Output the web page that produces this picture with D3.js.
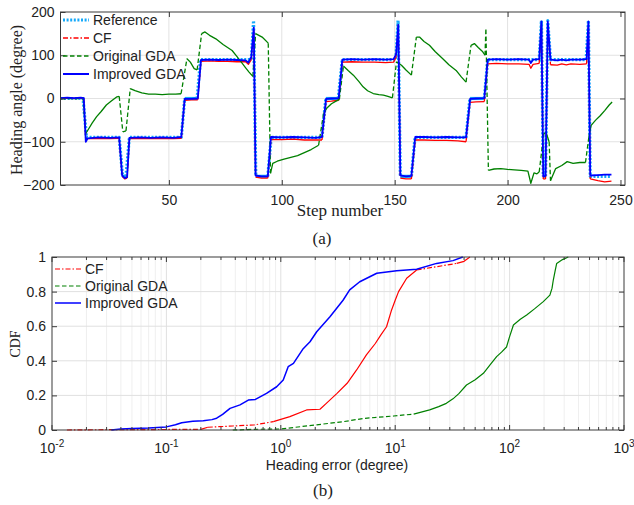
<!DOCTYPE html>
<html>
<head>
<meta charset="utf-8">
<script src="https://cdn.jsdelivr.net/npm/d3@7"></script>
<style>
  body { margin: 0; background: #fff; }
  text { fill: #222; }
</style>
</head>
<body>
<div id="chart"></div>
<script>
// (a) heading angle per step, [step, degree]
var referenceTrace = [[2,0],[12,0],[13.5,-90],[28,-90],[29.5,-180],[31,-180],[32.5,-90],[55.5,-90],[57,0],[62.5,0],[64,90],
  [86.5,90],[87.5,180],[88.5,-180],[93.8,-180],[95.3,-90],[117.8,-90],[119.5,0],[125,0],[126.8,90],[150.5,90],[151.5,180],
  [152.5,-180],[157.4,-180],[159,-90],[181.6,-90],[183.3,0],[189.7,0],[191.2,90],[214,90],[215,180],[215.8,-180],[216.8,-180],
  [217.8,180],[219,90],[234.8,90],[235.8,180],[236.6,-180],[246,-180]];

var cfTrace = [[2,0],[5,1],[8,0],[11,1],[12.3,0],[13.2,-96],[14,-93],[19,-92],[24,-93],[28,-92],[29.3,-180],[30.5,-186],[31.5,-184],
  [32.5,-93],[37,-92],[42,-93],[47,-92],[52,-93],[55.5,-92],[57,-4],[60,-3],[62.8,-3],[64.2,86],[68,87],[72,86],[76,86],[80,85],
  [84,85],[85.2,79],[86.5,90],[87.6,160],[88.4,-182],[91,-184],[93.8,-184],[95.2,-95],[100,-95],[105,-94],[110,-96],[115,-96],
  [117.8,-96],[119.6,-7],[122,-6],[125.2,-4],[126.8,84],[131,85],[136,84],[141,84],[146,83],[149.5,84],[150.6,95],[151.6,170],
  [152.5,-184],[155,-186],[157.4,-186],[159.1,-96],[163,-96],[168,-97],[173,-97],[178,-98],[181.6,-100],[183.4,-9],[186,-8],
  [189.7,-7],[191.2,80],[195,81],[200,80],[205,80],[209.5,79],[210.3,70],[211.3,79],[214,81],[215,170],[215.8,-186],[216.8,-186],
  [217.8,168],[219,78],[222,77],[224,80],[226,78],[228,80],[232,79],[235,80],[235.8,168],[236.6,-186],[240,-190],[243,-193],[246,-191]];

var originalGdaTrace = [[2,0],[12,0],[13.2,-81],[14.5,-70],[16,-57],[18,-42],[20,-30],[22.3,-15],[24.5,-6],[27,4],[28,5],[29.6,-77],
  [31,-75],[32.9,23],[35,18],[38,13],[41,10],[44,10],[47,9],[50,10],[53,10],[55.4,11],[58,92],[59.5,84],[61.2,69],[62.5,66],
  [64.5,150],[66,154],[68,146],[70.8,138],[74,125],[78,111],[80,98],[82.5,81],[84,71],[85.5,61],[87.2,51],[88.4,150],[91.3,142],
  [94,128],[95,-173],[96,-150],[98,-145],[101,-140],[104,-136],[107,-132],[110,-125],[113,-118],[116.3,-108],[118.5,-35],[120,-22],
  [122,-12],[124,-6],[125.5,-2],[127.3,75],[129.5,64],[131.7,54],[134,40],[136,27],[138,18],[140.5,11.5],[143,9],[145,8],[147,5],
  [149,1.5],[150.8,85],[153,77],[155,66],[157.4,54],[159.6,142],[161,142],[163,132],[165.4,123],[168,108],[171.3,92],[174,78],
  [177.2,65],[179.5,50],[181.6,38],[183.8,123],[185.3,127],[187,118],[189,108],[190,100],[190.4,162],[191.5,-166],[194,-163],
  [197,-162],[200,-164],[203,-165],[206,-166],[209,-168],[210.3,-196],[211.7,-172],[213,-174],[214,-170],[216,-82],[217,-78],
  [218.4,-100],[219,-190],[221.3,-162],[224,-155],[226.4,-146],[229,-150],[232,-148],[234.5,-148],[236,-89],[237,-62],[239,-50],
  [241,-40],[243,-28],[245,-15],[246.3,-8]];

var improvedGdaTrace = [[2,1],[5,2],[8,1],[11,2],[12.3,1],[13.2,-100],[14,-92],[19,-90],[24,-91],[28,-90],[29.3,-178],[30.5,-184],
  [31.5,-182],[32.5,-91],[37,-90],[42,-91],[47,-90],[52,-91],[55.5,-89],[57,-1],[60,-1],[62.8,0],[64.2,89],[68,90],[72,89],[76,90],
  [80,89],[84,88],[85.2,83],[86.5,96],[87.6,164],[88.4,-178],[91,-180],[93.8,-180],[95.2,-89],[100,-90],[105,-89],[110,-90],
  [115,-91],[117.8,-89],[119.6,-1],[122,0],[125.2,1],[126.8,90],[131,91],[136,90],[141,91],[146,90],[149.5,91],[150.6,102],
  [151.6,170],[152.5,-178],[155,-180],[157.4,-179],[159.1,-89],[163,-89],[168,-90],[173,-89],[178,-90],[181.6,-90],[183.4,-1],
  [186,0],[189.7,1],[191.2,90],[195,91],[200,90],[205,91],[209.5,90],[210.3,82],[211.3,90],[214,91],[215,178],[215.8,-180],
  [216.8,-179],[217.8,178],[219,90],[222,88],[224,90],[226,88],[228,90],[232,90],[235,91],[235.8,178],[236.6,-178],[240,-177],
  [243,-176],[246,-176]];

// (b) CDF of heading error, [error in degree, cdf]
var cfCdf = [[0.0135,0],[0.03,0.002],[0.05,0.002],[0.1,0.003],[0.2,0.004],[0.23,0.016],[0.38,0.023],[0.58,0.029],[0.86,0.048],
  [1.2,0.077],[1.68,0.116],[2.2,0.12],[2.5,0.154],[3.1,0.212],[3.8,0.27],[4.6,0.347],[5.6,0.434],[6.7,0.5],[7.5,0.55],[8.4,0.597],
  [9.3,0.694],[10,0.75],[10.7,0.8],[12.6,0.877],[15.4,0.925],[23,0.944],[34.5,0.963],[40,0.975],[45,1]];

var originalGdaCdf = [[0.38,0],[0.6,0.004],[1,0.006],[2.06,0.03],[3.5,0.048],[5.3,0.067],[9.7,0.081],
  [14.5,0.092],[20,0.116],[24,0.135],[28,0.154],[32,0.18],[36,0.21],[42,0.26],[50,0.29],[59,0.328],[68,0.38],[77,0.424],
  [85,0.45],[94,0.48],[100,0.54],[108,0.607],[124,0.64],[141,0.665],[165,0.7],[197,0.742],[225,0.78],[235,0.82],[241,0.867],
  [250,0.92],[258,0.963],[290,0.985],[326,1]];

var improvedGdaCdf = [[0.033,0],[0.04,0.006],[0.05,0.009],[0.07,0.012],[0.1,0.018],[0.12,0.03],[0.136,0.042],[0.17,0.05],
  [0.21,0.054],[0.25,0.06],[0.275,0.068],[0.31,0.09],[0.36,0.125],[0.44,0.145],[0.52,0.173],[0.6,0.177],[0.75,0.212],[0.92,0.25],
  [1.05,0.289],[1.16,0.366],[1.29,0.385],[1.57,0.47],[1.8,0.51],[2.06,0.568],[2.69,0.655],[3.5,0.75],[4,0.81],[4.9,0.857],
  [6.9,0.906],[10.3,0.921],[15.4,0.929],[23,0.963],[32,0.979],[39,1]];

var angleTicks = [-200, -100, 0, 100, 200];
var stepTicks = [50, 100, 150, 200, 250];
var cdfTicks = [0, 0.2, 0.4, 0.6, 0.8, 1];
var errorDecades = [-2, -1, 0, 1, 2, 3];

var svg = d3.select("#chart")
  .append("svg")
  .attr("width", 634)
  .attr("height", 505)
  .style("font-family", "'Liberation Sans', Arial, sans-serif");

var serif = "'Liberation Serif', 'Times New Roman', serif";

// draws a trace; long segments take the dash pattern, short ones look solid (as in the export)
function drawTrace(g, pts, sx, sy, color, width, dash, limit) {
  var runs = [], cur = null;
  for (var i = 1; i < pts.length; i++) {
    var len = Math.hypot(sx(pts[i][0]) - sx(pts[i - 1][0]), sy(pts[i][1]) - sy(pts[i - 1][1]));
    var isLong = !!dash && len > limit;
    if (!cur || cur.isLong !== isLong) {
      cur = { isLong: isLong, p: [pts[i - 1]] };
      runs.push(cur);
    }
    cur.p.push(pts[i]);
  }
  var line = d3.line().x(function(d) { return sx(d[0]); }).y(function(d) { return sy(d[1]); });
  runs.forEach(function(r) {
    g.append("path")
      .attr("d", line(r.p))
      .attr("fill", "none")
      .attr("stroke", color)
      .attr("stroke-width", width)
      .attr("stroke-linejoin", "round")
      .attr("stroke-dasharray", r.isLong ? dash : null);
  });
}

function drawLegend(g, x0, y0, gap, items) {
  items.forEach(function(it, i) {
    var y = y0 + i * gap;
    g.append("line")
      .attr("x1", x0).attr("x2", x0 + 26)
      .attr("y1", y).attr("y2", y)
      .attr("stroke", it.color)
      .attr("stroke-width", it.width)
      .attr("stroke-dasharray", it.dash);
    g.append("text")
      .attr("x", x0 + 30)
      .attr("y", y)
      .attr("dy", "0.35em")
      .style("font-size", "14px")
      .text(it.name);
  });
}

var blue = "#0000ff", red = "#ff0000", green = "#008000", lightBlue = "#14a9fa";
var refDash = "2,1.6", cfDash = "5,2,1.5,2", gdaDash = "4.5,2.5";

// ---------- (a) heading angle ----------
var xA = d3.scaleLinear().domain([2, 252]).range([60.5, 625]);
var yA = d3.scaleLinear().domain([-200, 200]).range([185, 12]);
var gA = svg.append("g");

gA.selectAll(".gx").data(stepTicks.filter(function(d) { return d < 250; })).enter()
  .append("line")
  .attr("x1", function(d) { return xA(d); }).attr("x2", function(d) { return xA(d); })
  .attr("y1", yA(200)).attr("y2", yA(-200))
  .attr("stroke", "#e2e2e2");
gA.selectAll(".gy").data([-100, 0, 100]).enter()
  .append("line")
  .attr("x1", xA(2)).attr("x2", xA(252))
  .attr("y1", function(d) { return yA(d); }).attr("y2", function(d) { return yA(d); })
  .attr("stroke", "#e2e2e2");

drawTrace(gA, referenceTrace, xA, yA, lightBlue, 3.2, refDash, 15);
drawTrace(gA, cfTrace, xA, yA, red, 1.3, cfDash, 15);
drawTrace(gA, originalGdaTrace, xA, yA, green, 1.3, gdaDash, 15);
drawTrace(gA, improvedGdaTrace, xA, yA, blue, 1.8, null, 15);

gA.append("g")
  .attr("transform", "translate(0,185)")
  .call(d3.axisBottom(xA).tickValues(stepTicks).tickSize(-5).tickPadding(10))
  .call(function(a) { a.select(".domain").remove(); });
gA.append("g")
  .attr("transform", "translate(0,12)")
  .call(d3.axisTop(xA).tickValues(stepTicks).tickSize(-5).tickFormat(""))
  .call(function(a) { a.select(".domain").remove(); });
gA.append("g")
  .attr("transform", "translate(60.5,0)")
  .call(d3.axisLeft(yA).tickValues(angleTicks).tickSize(-5).tickPadding(6))
  .call(function(a) { a.select(".domain").remove(); });
gA.append("g")
  .attr("transform", "translate(625,0)")
  .call(d3.axisRight(yA).tickValues(angleTicks).tickSize(-5).tickFormat(""))
  .call(function(a) { a.select(".domain").remove(); });

gA.append("rect")
  .attr("x", 60.5).attr("y", 12)
  .attr("width", 625 - 60.5).attr("height", 185 - 12)
  .attr("fill", "none")
  .attr("stroke", "#3a3a3a");

drawLegend(gA, 63, 20, 18, [
  { name: "Reference", color: lightBlue, width: 3, dash: refDash },
  { name: "CF", color: red, width: 1.3, dash: cfDash },
  { name: "Original GDA", color: green, width: 1.3, dash: gdaDash },
  { name: "Improved GDA", color: blue, width: 2, dash: null }
]);

gA.append("text")
  .attr("transform", "translate(22,100) rotate(-90)")
  .style("font-family", serif)
  .style("font-size", "16px")
  .style("text-anchor", "middle")
  .text("Heading angle (degree)");
gA.append("text")
  .attr("x", 340).attr("y", 216)
  .style("font-family", serif)
  .style("font-size", "17px")
  .style("text-anchor", "middle")
  .text("Step number");
gA.append("text")
  .attr("x", 322).attr("y", 244)
  .style("font-family", serif)
  .style("font-size", "17px")
  .style("text-anchor", "middle")
  .text("(a)");

// ---------- (b) CDF ----------
var xB = d3.scaleLog().domain([1e-2, 1e3]).range([52, 624]);
var yB = d3.scaleLinear().domain([0, 1]).range([430, 257]);
var gB = svg.append("g");

var minorVals = [];
errorDecades.slice(0, -1).forEach(function(e) {
  for (var k = 2; k <= 9; k++) minorVals.push(k * Math.pow(10, e));
});
var majorVals = errorDecades.map(function(e) { return Math.pow(10, e); });

gB.selectAll(".mg").data(minorVals).enter()
  .append("line")
  .attr("x1", function(d) { return xB(d); }).attr("x2", function(d) { return xB(d); })
  .attr("y1", 257).attr("y2", 430)
  .attr("stroke", "#efefef");
gB.selectAll(".gx").data(majorVals.slice(1, -1)).enter()
  .append("line")
  .attr("x1", function(d) { return xB(d); }).attr("x2", function(d) { return xB(d); })
  .attr("y1", 257).attr("y2", 430)
  .attr("stroke", "#e0e0e0");
gB.selectAll(".gy").data(cdfTicks.slice(1, -1)).enter()
  .append("line")
  .attr("x1", 52).attr("x2", 624)
  .attr("y1", function(d) { return yB(d); }).attr("y2", function(d) { return yB(d); })
  .attr("stroke", "#e0e0e0");

drawTrace(gB, cfCdf, xB, yB, red, 1.2, cfDash, 19);
drawTrace(gB, originalGdaCdf, xB, yB, green, 1.2, gdaDash, 19);
drawTrace(gB, improvedGdaCdf, xB, yB, blue, 1.5, null, 19);

// ticks inside, major and minor, bottom and top
[430, 257].forEach(function(yy) {
  var dir = yy === 430 ? -1 : 1;
  gB.selectAll(null).data(majorVals).enter()
    .append("line")
    .attr("x1", function(d) { return xB(d); }).attr("x2", function(d) { return xB(d); })
    .attr("y1", yy).attr("y2", yy + dir * 5)
    .attr("stroke", "#3a3a3a");
  gB.selectAll(null).data(minorVals).enter()
    .append("line")
    .attr("x1", function(d) { return xB(d); }).attr("x2", function(d) { return xB(d); })
    .attr("y1", yy).attr("y2", yy + dir * 3)
    .attr("stroke", "#3a3a3a");
});
gB.append("g")
  .attr("transform", "translate(52,0)")
  .call(d3.axisLeft(yB).tickValues(cdfTicks).tickSize(-5).tickPadding(6).tickFormat(d3.format("~g")))
  .call(function(a) { a.select(".domain").remove(); });
gB.append("g")
  .attr("transform", "translate(624,0)")
  .call(d3.axisRight(yB).tickValues(cdfTicks).tickSize(-5).tickFormat(""))
  .call(function(a) { a.select(".domain").remove(); });

// power-of-ten labels
var decLabels = gB.selectAll(".dl").data(errorDecades).enter()
  .append("text")
  .attr("x", function(d) { return xB(Math.pow(10, d)); })
  .attr("y", 453)
  .style("font-size", "14px")
  .style("text-anchor", "middle");
decLabels.append("tspan").text("10");
decLabels.append("tspan")
  .attr("dy", -6)
  .style("font-size", "10px")
  .text(function(d) { return d; });

gB.append("rect")
  .attr("x", 52).attr("y", 257)
  .attr("width", 624 - 52).attr("height", 430 - 257)
  .attr("fill", "none")
  .attr("stroke", "#3a3a3a");

drawLegend(gB, 55, 269, 17, [
  { name: "CF", color: red, width: 1.2, dash: cfDash },
  { name: "Original GDA", color: green, width: 1.2, dash: gdaDash },
  { name: "Improved GDA", color: blue, width: 1.5, dash: null }
]);

gB.append("text")
  .attr("transform", "translate(20,344) rotate(-90)")
  .style("font-family", serif)
  .style("font-size", "14px")
  .style("text-anchor", "middle")
  .text("CDF");
gB.append("text")
  .attr("x", 337).attr("y", 470)
  .style("font-size", "14px")
  .style("text-anchor", "middle")
  .text("Heading error (degree)");
gB.append("text")
  .attr("x", 323).attr("y", 496)
  .style("font-family", serif)
  .style("font-size", "17px")
  .style("text-anchor", "middle")
  .text("(b)");

svg.selectAll(".tick text").style("font-size", "14px").style("fill", "#222");
svg.selectAll(".tick line").attr("stroke", "#3a3a3a");
</script>
</body>
</html>
